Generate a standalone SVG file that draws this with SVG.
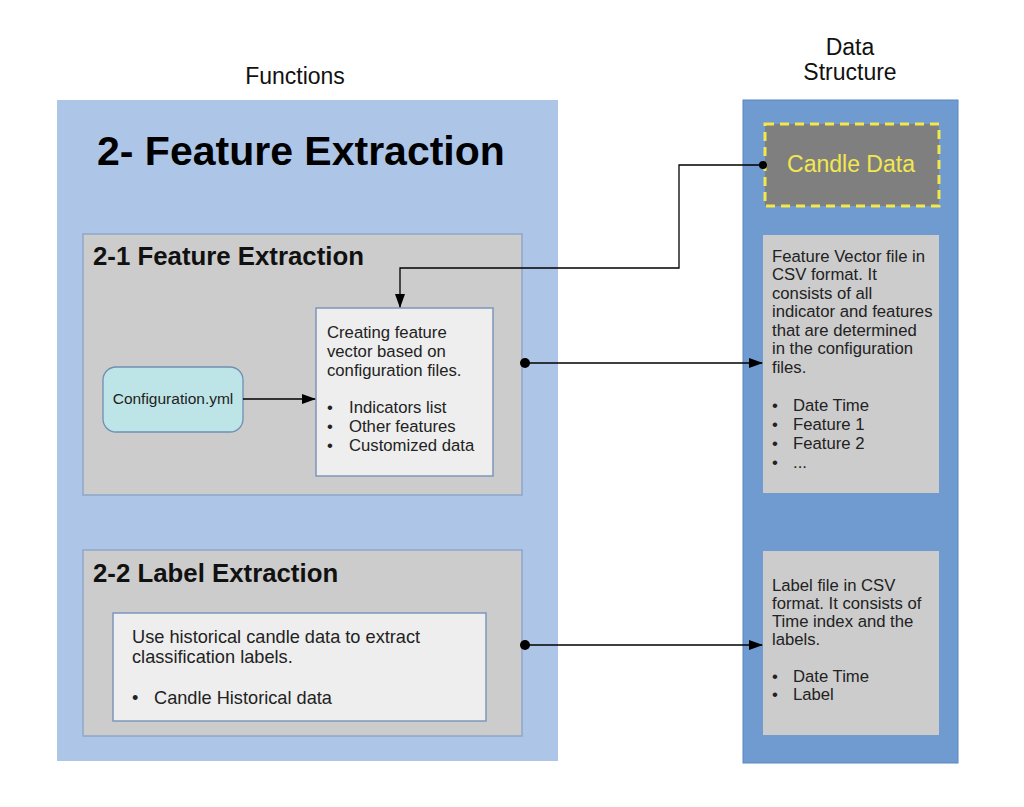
<svg xmlns="http://www.w3.org/2000/svg" width="1024" height="807" viewBox="0 0 1024 807">
<defs>
<marker id="arr" markerWidth="14" markerHeight="10" refX="13" refY="5" orient="auto" markerUnits="userSpaceOnUse">
<path d="M0,0 L14,5 L0,10 Z" fill="#000"/>
</marker>
<style>
text{font-family:"Liberation Sans",Arial,sans-serif;fill:#222}
.hdr{font-size:23px;fill:#111}
.h1{font-size:41px;font-weight:bold;fill:#000}
.h2{font-size:25.8px;font-weight:bold;fill:#111}
.t{font-size:16.7px}
.t2{font-size:18.2px}
.sub{fill:#cccccc;stroke:#8ea7c9;stroke-width:1.5}
.inner{fill:#eeeeee;stroke:#7d97ba;stroke-width:1.5}
.ds{fill:#cccccc}
.conn{fill:none;stroke:#000;stroke-width:1.3}
</style>
</defs>
<rect width="1024" height="807" fill="#fff"/>

<text class="hdr" x="295" y="84" text-anchor="middle">Functions</text>
<text class="hdr" x="850" y="55" text-anchor="middle">Data</text>
<text class="hdr" x="850" y="80" text-anchor="middle">Structure</text>

<g id="functions-panel">
<rect x="57" y="100" width="501" height="661" fill="#adc6e8"/>
<text class="h1" x="97" y="165">2- Feature Extraction</text>
</g>

<g id="feature-extraction">
<rect class="sub" x="83" y="234" width="439" height="261"/>
<text class="h2" x="93" y="265">2-1 Feature Extraction</text>
</g>

<g id="config">
<rect x="103" y="367" width="140" height="65" rx="13" fill="#bde5e7" stroke="#6f8fb3" stroke-width="1.3"/>
<text x="173" y="404" text-anchor="middle" style="font-size:15.5px">Configuration.yml</text>
</g>

<g id="creating">
<rect class="inner" x="316" y="308" width="177" height="168"/>
<text class="t" x="327" y="338">Creating feature</text>
<text class="t" x="327" y="357">vector based on</text>
<text class="t" x="327" y="376">configuration files.</text>
<text class="t" x="327" y="413">•</text><text class="t" x="349" y="413">Indicators list</text>
<text class="t" x="327" y="432">•</text><text class="t" x="349" y="432">Other features</text>
<text class="t" x="327" y="451">•</text><text class="t" x="349" y="451">Customized data</text>
</g>

<g id="label-extraction">
<rect class="sub" x="83" y="550" width="439" height="186"/>
<text class="h2" x="93" y="582">2-2 Label Extraction</text>
</g>

<g id="historical">
<rect class="inner" x="113" y="613" width="373" height="108"/>
<text class="t2" x="132" y="643">Use historical candle data to extract</text>
<text class="t2" x="132" y="663">classification labels.</text>
<text class="t2" x="132" y="704">•</text><text class="t2" x="154" y="704">Candle Historical data</text>
</g>

<g id="data-panel">
<rect x="743" y="100" width="215" height="663" fill="#6f9bd1" stroke="#5a86bd" stroke-width="1"/>
</g>

<g id="candle-data">
<rect x="765" y="124" width="174" height="82" fill="#7f7f7f" stroke="#f3e84a" stroke-width="3" stroke-dasharray="9,6"/>
<text x="851" y="172" text-anchor="middle" style="font-size:23px;fill:#f2e84e">Candle Data</text>
</g>

<g id="feature-vector">
<rect class="ds" x="763" y="235" width="176" height="258"/>
<text class="t" x="772" y="262">Feature Vector file in</text>
<text class="t" x="772" y="280">CSV format. It</text>
<text class="t" x="772" y="299">consists of all</text>
<text class="t" x="772" y="317">indicator and features</text>
<text class="t" x="772" y="336">that are determined</text>
<text class="t" x="772" y="354">in the configuration</text>
<text class="t" x="772" y="373">files.</text>
<text class="t" x="772" y="411">•</text><text class="t" x="793" y="411">Date Time</text>
<text class="t" x="772" y="430">•</text><text class="t" x="793" y="430">Feature 1</text>
<text class="t" x="772" y="449">•</text><text class="t" x="793" y="449">Feature 2</text>
<text class="t" x="772" y="468">•</text><text class="t" x="793" y="468">...</text>
</g>

<g id="label-file">
<rect class="ds" x="763" y="551" width="176" height="184"/>
<text class="t" x="772" y="591">Label file in CSV</text>
<text class="t" x="772" y="609">format. It consists of</text>
<text class="t" x="772" y="627">Time index and the</text>
<text class="t" x="772" y="645">labels.</text>
<text class="t" x="772" y="682">•</text><text class="t" x="793" y="682">Date Time</text>
<text class="t" x="772" y="700">•</text><text class="t" x="793" y="700">Label</text>
</g>

<g id="connectors">
<path class="conn" d="M243,399 L315,399" marker-end="url(#arr)"/>
<path class="conn" d="M763,165 L679,165 L679,268 L400,268 L400,307" marker-end="url(#arr)"/>
<circle cx="763" cy="165" r="4" fill="#000"/>
<path class="conn" d="M525,363 L762,363" marker-end="url(#arr)"/>
<circle cx="525" cy="363" r="5" fill="#000"/>
<path class="conn" d="M525,645 L762,645" marker-end="url(#arr)"/>
<circle cx="525" cy="645" r="5" fill="#000"/>
</g>
</svg>
